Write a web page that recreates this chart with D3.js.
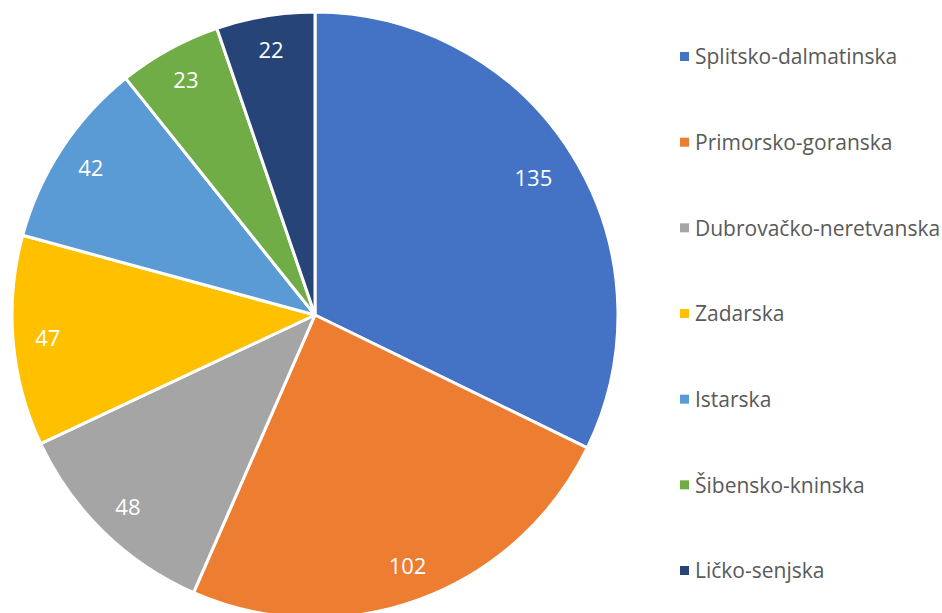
<!DOCTYPE html>
<html>
<head>
<meta charset="utf-8">
<script src="https://cdn.jsdelivr.net/npm/d3@7"></script>
<style>
  body { margin: 0; background: #fff; }
  text { font-family: "Open Sans", "Liberation Sans", sans-serif; }
</style>
</head>
<body>
<script>
const counties = ['Splitsko-dalmatinska', 'Primorsko-goranska', 'Dubrovačko-neretvanska',
  'Zadarska', 'Istarska', 'Šibensko-kninska', 'Ličko-senjska'];
const counts = [135, 102, 48, 47, 42, 23, 22];
const colors = ['#4472c4', '#ed7d31', '#a5a5a5', '#ffc000', '#5b9bd5', '#70ad47', '#264478'];

const width = 942, height = 613;
const cx = 315, cy = 315, radius = 303;

const svg = d3.select('body').append('svg')
  .attr('width', width)
  .attr('height', height);

const data = counties.map((c, i) => ({ name: c, value: counts[i], color: colors[i] }));

const pie = d3.pie().value(d => d.value).sort(null);
const arc = d3.arc().innerRadius(0).outerRadius(radius);
const labelArc = d3.arc().innerRadius(radius * 0.88).outerRadius(radius * 0.88);

const g = svg.append('g').attr('transform', `translate(${cx},${cy})`);

const slices = pie(data);

g.selectAll('path')
  .data(slices)
  .enter()
  .append('path')
  .attr('d', arc)
  .attr('fill', d => d.data.color)
  .attr('stroke', '#fff')
  .attr('stroke-width', 3)
  .attr('stroke-linejoin', 'round');

g.selectAll('.lbl')
  .data(slices)
  .enter()
  .append('text')
  .attr('class', 'lbl')
  .attr('transform', d => {
    // biggest slice label sits a little further in
    const r = d.index === 0 ? radius * 0.85 : radius * 0.885;
    const a = (d.startAngle + d.endAngle) / 2;
    return `translate(${Math.sin(a) * r},${-Math.cos(a) * r})`;
  })
  .attr('text-anchor', 'middle')
  .attr('dy', '0.35em')
  .attr('fill', '#fff')
  .style('font-size', '22px')
  .text(d => d.data.value);

// legend
const legend = svg.append('g').attr('transform', 'translate(680,57)');
const ly = d3.scalePoint().domain(counties).range([0, 514]);

const item = legend.selectAll('.item')
  .data(data)
  .enter()
  .append('g')
  .attr('class', 'item')
  .attr('transform', d => `translate(0,${ly(d.name)})`);

item.append('rect')
  .attr('x', 0).attr('y', -5)
  .attr('width', 9).attr('height', 9)
  .attr('fill', d => d.color);

item.append('text')
  .attr('x', 15)
  .attr('dy', '0.35em')
  .attr('fill', '#595959')
  .style('font-size', '21px')
  .text(d => d.name);
</script>
</body>
</html>
